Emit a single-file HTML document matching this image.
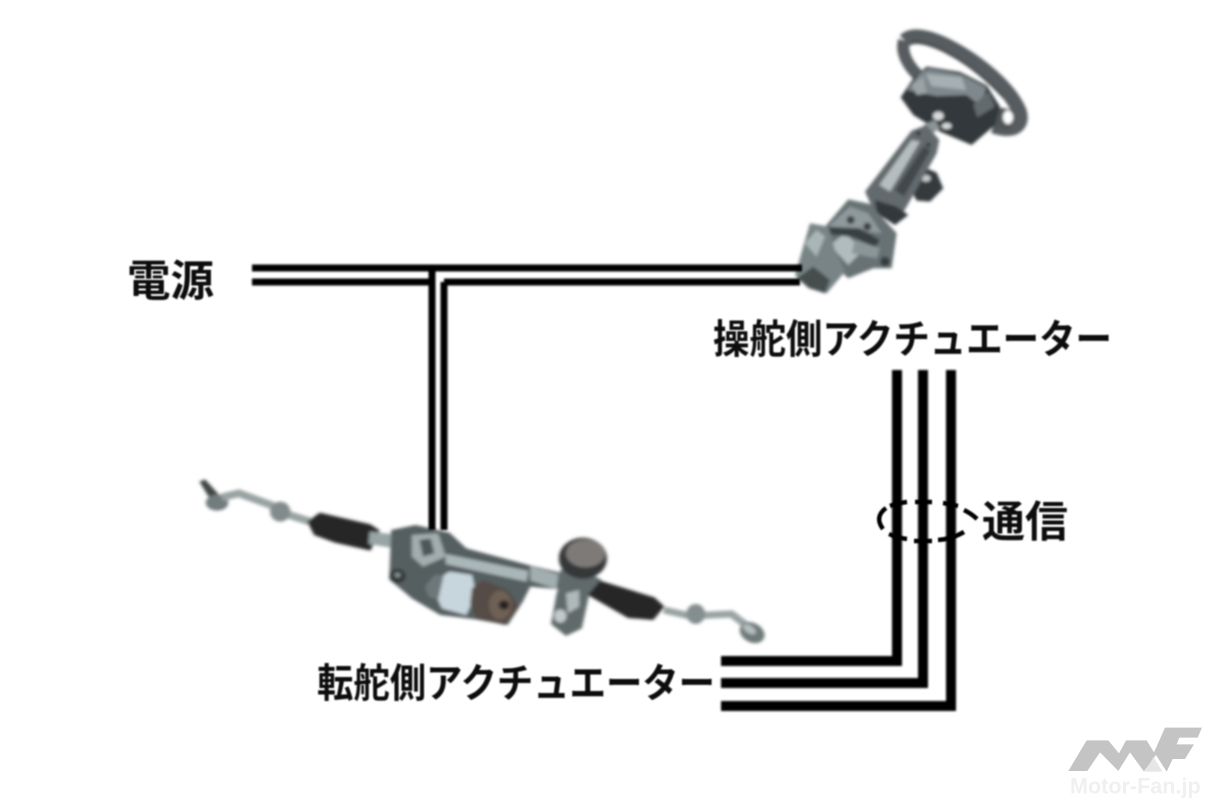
<!DOCTYPE html>
<html lang="ja">
<head>
<meta charset="utf-8">
<title>ステアリング構成図</title>
<style>
html,body{margin:0;padding:0;background:#fff;width:1212px;height:808px;overflow:hidden}
svg{display:block}
text{font-family:"Liberation Sans","Noto Sans CJK JP",sans-serif;fill:#111}
</style>
</head>
<body>
<svg width="1212" height="808" viewBox="0 0 1212 808" xmlns="http://www.w3.org/2000/svg">
<defs>
<filter id="b1" x="-5%" y="-5%" width="110%" height="110%"><feGaussianBlur stdDeviation="1"/></filter>
<filter id="b2" x="-10%" y="-10%" width="120%" height="120%"><feGaussianBlur stdDeviation="0.8"/></filter>
<filter id="z" x="-10%" y="-10%" width="120%" height="120%"><feGaussianBlur stdDeviation="5"/></filter>
</defs>

<!-- steering wheel assembly -->
<g transform="translate(780,10) scale(0.3333)" filter="url(#z)">
  <path d="M375 92C395 72 440 78 498 106C598 156 690 236 718 304C732 348 700 368 640 348" fill="none" stroke="#575c5f" stroke-width="44"/>
  <path d="M372 92C362 125 382 170 425 205" fill="none" stroke="#565b5e" stroke-width="36"/>
  <path d="M395 95C460 95 570 155 670 262" fill="none" stroke="#3f4447" stroke-width="6"/>
  <polygon points="640,290 700,300 690,362 640,352" fill="#4f5457"/>
  <ellipse cx="684" cy="322" rx="15" ry="20" fill="#fff"/>
  <polygon points="362,262 400,205 440,170 540,186 620,226 660,290 645,345 575,405 480,365 400,315" fill="#33383b"/>
  <polygon points="382,240 420,190 445,176 540,193 618,232 605,290 560,255 470,258" fill="#7f898d"/>
  <polygon points="438,192 545,202 558,240 455,228" fill="#a6b0b2"/>
  <polygon points="395,225 430,200 440,250 410,255" fill="#9aa3a6"/>
  <polygon points="580,285 625,245 645,290 592,322" fill="#646b6e"/>
  <ellipse cx="475" cy="318" rx="16" ry="13" fill="#d8dcdc"/>
  <ellipse cx="500" cy="348" rx="15" ry="9" fill="#d8dcdc"/>
  <polygon points="430,345 465,330 480,355 450,375" fill="#8d9497"/>
  <polygon points="395,545 440,475 470,488 490,535 450,575 410,572" fill="#363b3e"/>
  <ellipse cx="438" cy="505" rx="14" ry="10" fill="#c8cbcb"/>
  <polygon points="255,545 395,362 440,345 478,390 470,430 380,590 350,640 280,600" fill="#636a6d"/>
  <polygon points="298,525 395,390 420,395 330,545" fill="#b5bdbf"/>
  <polygon points="345,540 430,410 452,420 372,560" fill="#42484b"/>
  <circle cx="415" cy="370" r="7" fill="#33383b"/><circle cx="445" cy="405" r="7" fill="#33383b"/>
  <polygon points="285,570 350,590 385,615 345,645 290,610" fill="#33383b"/>
  <polygon points="135,650 205,568 270,582 350,670 335,775 280,775 205,805 125,735" fill="#687274"/>
  <polygon points="145,650 210,590 265,610 305,670 215,660" fill="#8f9a9c"/>
  <polygon points="150,705 195,670 250,720 205,765" fill="#b0bcbd"/>
  <polygon points="135,650 240,655 300,690 285,712 220,682 145,672" fill="#383f42"/>
  <polygon points="225,690 300,715 290,745 215,730" fill="#8b9697"/>
  <circle cx="212" cy="630" r="12" fill="#3a4144"/>
  <circle cx="262" cy="650" r="12" fill="#3a4144"/>
  <circle cx="315" cy="755" r="15" fill="#363d40"/>
  <polygon points="45,795 90,640 145,650 165,720 195,785 140,850 85,835" fill="#788485"/>
  <polygon points="75,700 110,660 135,680 110,740" fill="#aab6b6"/>
  <polygon points="50,805 100,770 150,810 135,850 90,835" fill="#454d4e"/>
</g>

<!-- steering rack assembly -->
<g transform="translate(190,460) scale(0.376,0.3333)" filter="url(#z)">
  <polygon points="25,65 40,58 78,105 55,120" fill="#3f4445"/>
  <ellipse cx="72" cy="128" rx="30" ry="24" fill="#727c7d"/>
  <path d="M85 112L130 100L215 135L250 160L320 185" fill="none" stroke="#9aa3a3" stroke-width="23"/>
  <ellipse cx="240" cy="155" rx="27" ry="30" fill="#828b8b"/>
  <polygon points="312,185 345,158 480,193 505,212 480,272 385,248 330,225" fill="#262626"/>
  <polygon points="478,215 560,225 560,268 475,252" fill="#98a4a6"/>
  <polygon points="535,210 600,195 690,218 735,265 900,315 985,338 985,388 905,380 885,425 845,495 760,478 665,465 590,415 530,358" fill="#555e60"/>
  <polygon points="590,225 660,220 680,290 620,320 590,290" fill="#a2adae"/>
  <polygon points="610,240 640,235 650,280 620,290" fill="#4e5658"/>
  <polygon points="680,282 900,333 895,365 680,312" fill="#aab7b9"/>
  <polygon points="905,318 980,343 975,387 905,362" fill="#a2aeb0"/>
  <circle cx="552" cy="348" r="21" fill="#2f3436"/>
  <circle cx="552" cy="345" r="8" fill="#8b9192"/>
  <polygon points="640,370 690,335 750,345 760,400 735,465 670,445" fill="#c7d6dd"/>
  <polygon points="625,380 650,345 675,345 660,420 635,410" fill="#6e7779"/>
  <polygon points="750,385 780,360 845,390 875,440 838,495 760,475 745,430" fill="#544c46"/>
  <ellipse cx="825" cy="435" rx="30" ry="44" fill="#6e6054"/>
  <circle cx="835" cy="435" r="14" fill="#262321"/>
  <polygon points="985,328 1060,338 1095,360 1062,402 1042,505 1000,528 960,492 975,400 985,370" fill="#616a6b"/>
  <polygon points="1000,400 1035,390 1035,440 1005,460" fill="#afb9ba"/>
  <ellipse cx="985" cy="468" rx="16" ry="20" fill="#c1c9ca"/>
  <ellipse cx="1045" cy="295" rx="64" ry="62" fill="#343738"/>
  <ellipse cx="1052" cy="280" rx="52" ry="42" fill="#7e7a78"/>
  <polygon points="1058,405 1090,362 1235,412 1262,440 1232,480 1165,474" fill="#262626"/>
  <path d="M1260 450L1330 468L1440 462L1490 505" fill="none" stroke="#9aa3a3" stroke-width="21"/>
  <ellipse cx="1345" cy="462" rx="25" ry="30" fill="#858e8e"/>
  <ellipse cx="1495" cy="518" rx="36" ry="28" transform="rotate(40 1495 518)" fill="#6f797a"/>
  <ellipse cx="1488" cy="508" rx="20" ry="11" transform="rotate(40 1488 508)" fill="#b6bdbd"/>
</g>

<!-- lines -->
<g filter="url(#b1)" stroke="#000" fill="none">
  <path d="M252 268H802M252 282H432M444 282H800" stroke-width="7"/>
  <path d="M432 268V530M444 282V530" stroke-width="7"/>
  <path d="M897 370V661H721" stroke-width="10"/>
  <path d="M923 370V683H721" stroke-width="10"/>
  <path d="M951 370V706H721" stroke-width="10"/>
</g>

<!-- communication mark -->
<g filter="url(#b2)" stroke="#000" stroke-width="4.5" fill="none">
  <path d="M886 508Q874 517 883 529"/>
  <path d="M890 506Q898 503 907 502M915 502H932M943 503Q950 504 958 506"/>
  <path d="M889 534Q898 538 907 539M914 541H932M938 540Q952 539 964 532"/>
  <path d="M964 510Q972 514 977 519"/>
</g>

<!-- labels -->
<g filter="url(#b2)">
  <text x="127" y="296" font-size="43" font-weight="700" textLength="87" lengthAdjust="spacingAndGlyphs">電源</text>
  <text x="713" y="353" font-size="40" font-weight="700" textLength="399" lengthAdjust="spacingAndGlyphs">操舵側アクチュエーター</text>
  <text x="317" y="697" font-size="40" font-weight="700" textLength="398" lengthAdjust="spacingAndGlyphs">転舵側アクチュエーター</text>
  <text x="982" y="537" font-size="43" font-weight="700" textLength="86" lengthAdjust="spacingAndGlyphs">通信</text>
</g>

<!-- watermark -->
<g transform="translate(1050,715) scale(0.3333)" filter="url(#b2)">
  <polygon points="55,168 110,76 175,76 207,115 228,76 290,76 312,112 345,38 456,38 443,68 388,68 380,88 432,88 405,132 368,132 350,170 318,120 282,170 240,112 205,168 150,112 112,168" fill="#c4c4c4"/>
  <polygon points="285,170 311,126 337,170" fill="#e6e6e6"/>
  <text x="60" y="236" font-size="66" font-weight="700" textLength="392" lengthAdjust="spacingAndGlyphs" style="fill:#f0f0f0">Motor-Fan.jp</text>
</g>
</svg>
</body>
</html>
